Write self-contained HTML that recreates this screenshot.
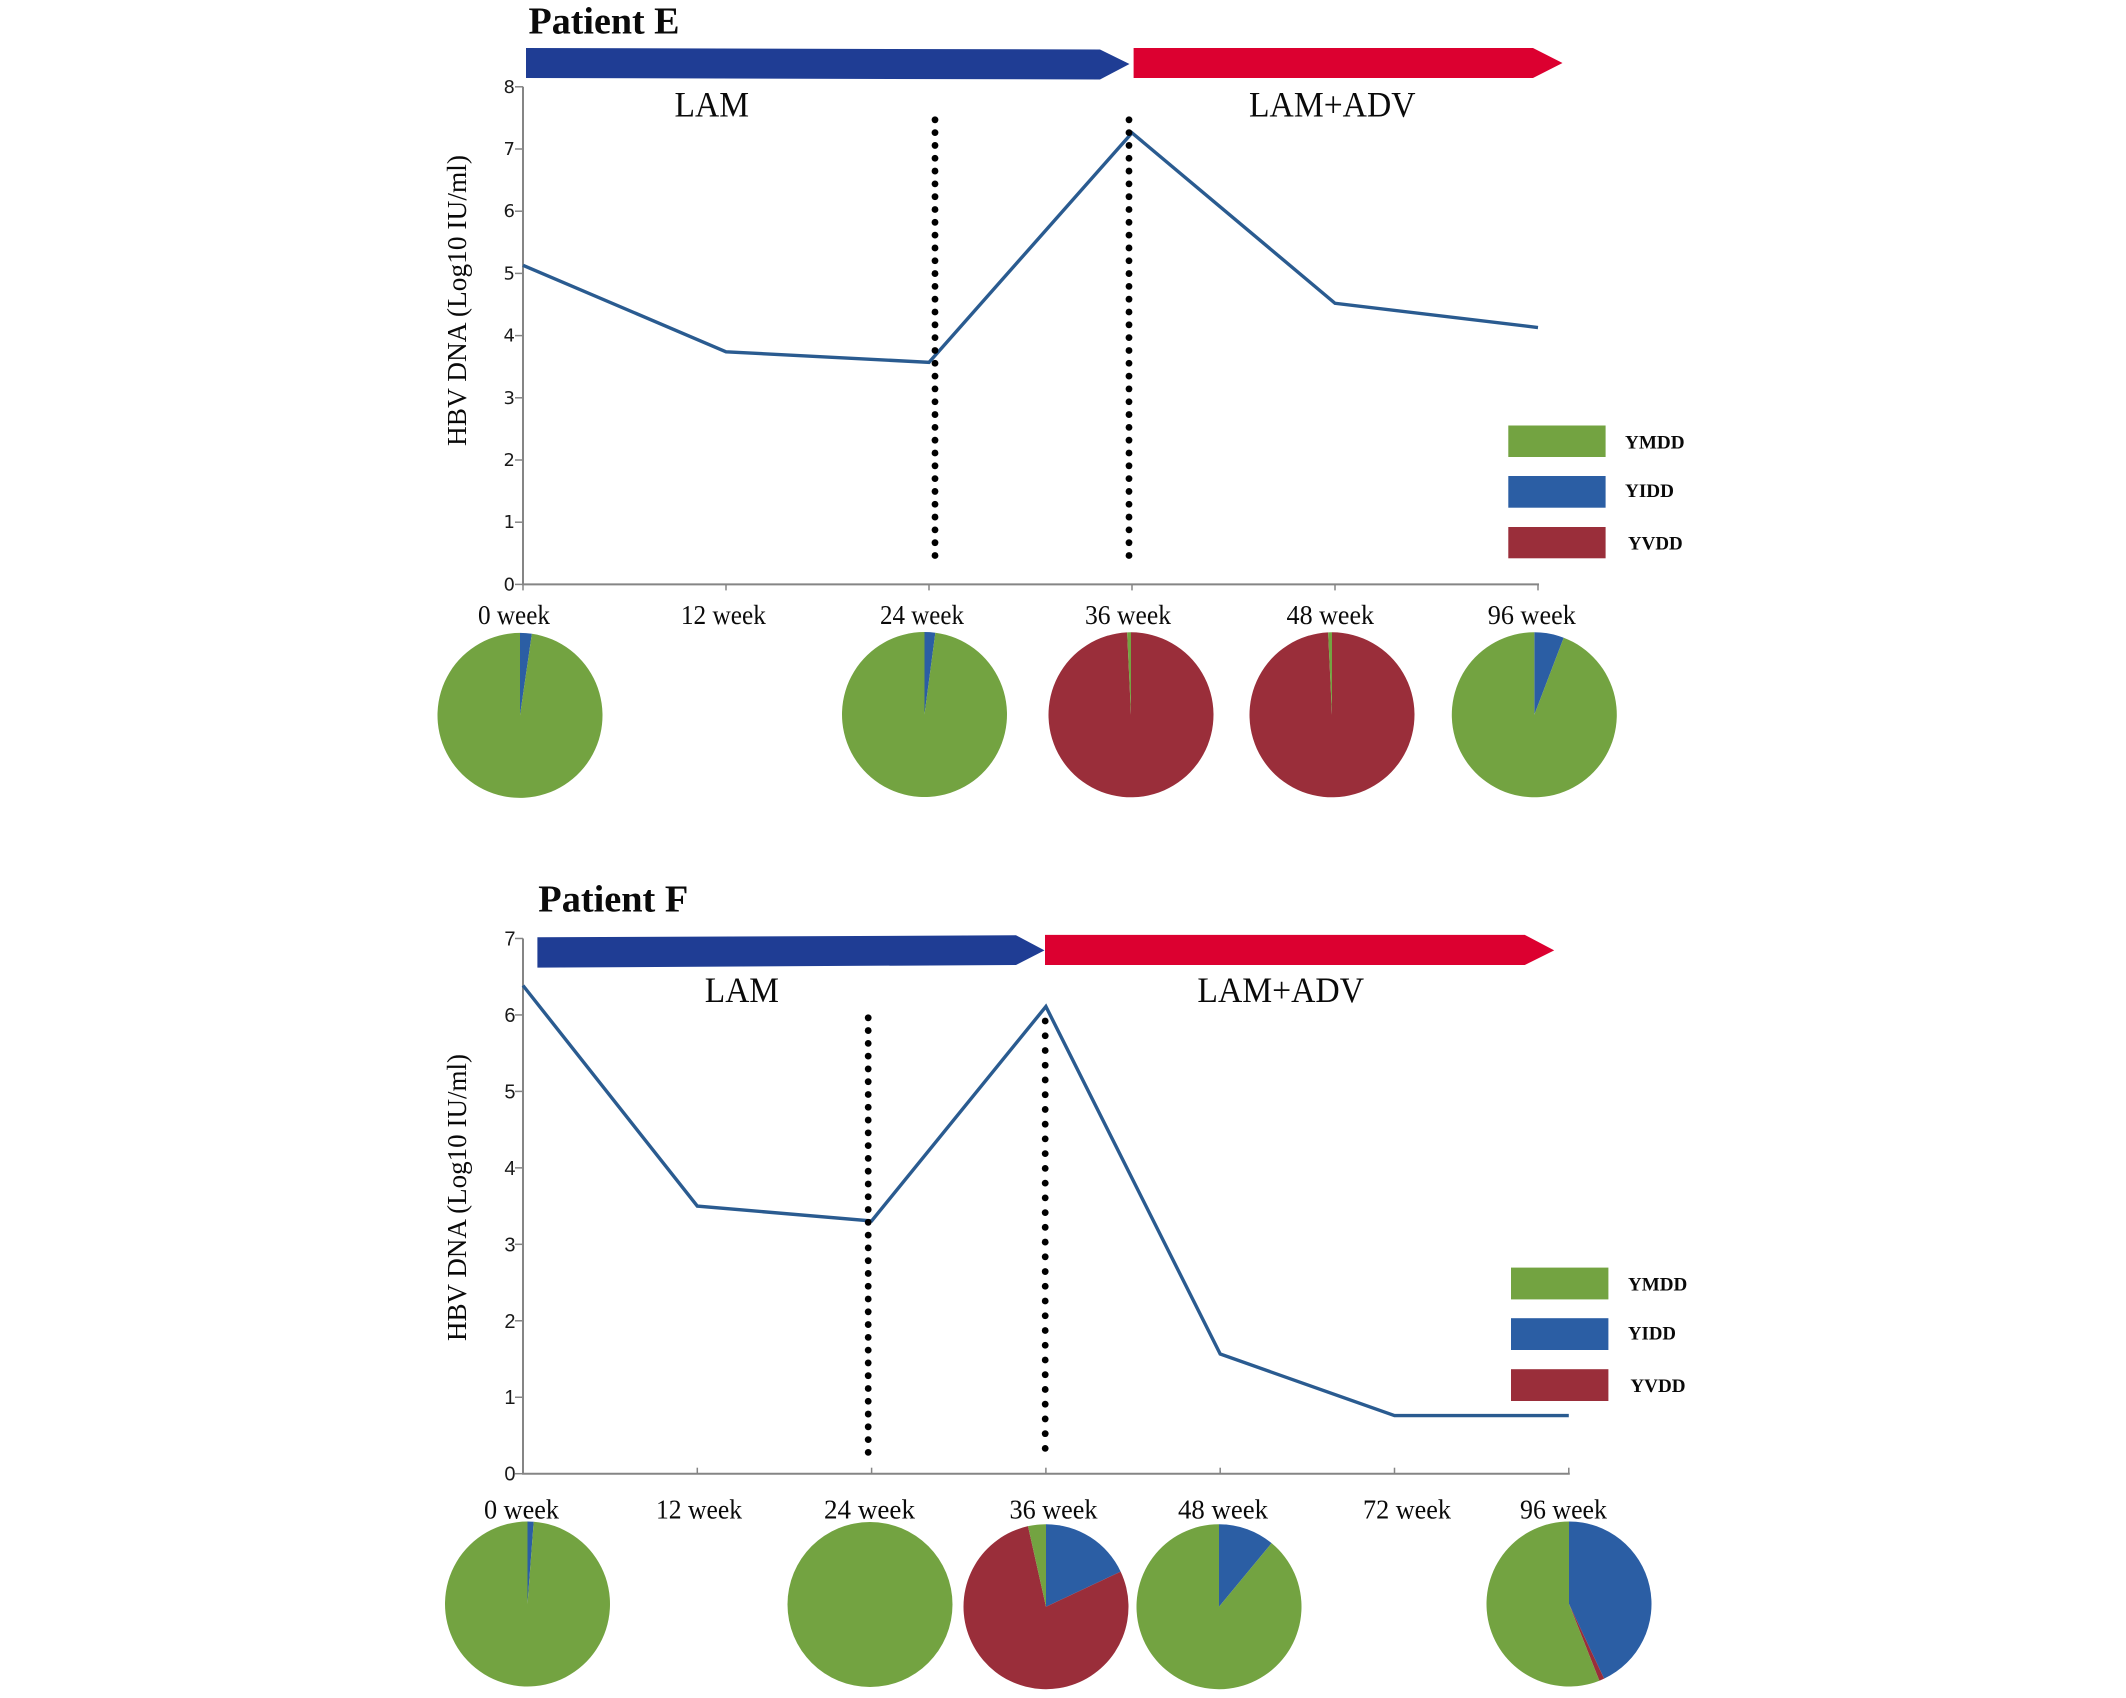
<!DOCTYPE html>
<html lang="en">
<head>
<meta charset="utf-8">
<title>HBV DNA and YMDD variants: Patients E and F</title>
<style>
html,body{margin:0;padding:0;background:#fff;}
svg{display:block;}
.serif{font-family:"Liberation Serif",serif;fill:#0a0a0a;}
</style>
</head>
<body>
<svg id="figure" xmlns="http://www.w3.org/2000/svg" width="2126" height="1698" viewBox="0 0 2126 1698">
  <rect width="2126" height="1698" fill="#ffffff"/>

  <text class="serif" x="528.5" y="33.6" font-size="38" font-weight="700" textLength="151" lengthAdjust="spacingAndGlyphs">Patient E</text>
  <polygon points="526,48 1100,49.5 1129.5,64 1100,79.5 526,78" fill="#1f3d94"/>
  <polygon points="1133.6,48 1533,48 1562.5,63 1533,78 1133.6,78" fill="#dc0030"/>
  <text class="serif" x="674.5" y="116.6" font-size="36" textLength="74.5" lengthAdjust="spacingAndGlyphs">LAM</text>
  <text class="serif" x="1249" y="116.6" font-size="36" textLength="166.5" lengthAdjust="spacingAndGlyphs">LAM+ADV</text>
  <text class="serif" x="466" y="446" font-size="27" textLength="291" lengthAdjust="spacingAndGlyphs" transform="rotate(-90 466 446)">HBV DNA (Log10 IU/ml)</text>

  <rect x="1508.3" y="425.5" width="97.3" height="31.5" fill="#73a341"/>
  <rect x="1508.3" y="476" width="97.3" height="31.7" fill="#2b5ea4"/>
  <rect x="1508.3" y="527" width="97.3" height="31.3" fill="#9a2e3a"/>
  <text class="serif" x="1625" y="448.5" font-size="19" font-weight="700" textLength="59.6" lengthAdjust="spacingAndGlyphs">YMDD</text>
  <text class="serif" x="1625" y="497" font-size="19" font-weight="700" textLength="49" lengthAdjust="spacingAndGlyphs">YIDD</text>
  <text class="serif" x="1628" y="549.6" font-size="19" font-weight="700" textLength="54.7" lengthAdjust="spacingAndGlyphs">YVDD</text>

  <text class="serif" x="538.3" y="911.6" font-size="38" font-weight="700" textLength="150" lengthAdjust="spacingAndGlyphs">Patient F</text>
  <polygon points="537.4,937.3 1016,935.3 1044.5,950.4 1016,965 537.4,967.6" fill="#1f3d94"/>
  <polygon points="1045,934.9 1524.8,934.9 1554.2,950.4 1524.8,965 1045,965" fill="#dc0030"/>
  <text class="serif" x="704.8" y="1001.8" font-size="36" textLength="74.2" lengthAdjust="spacingAndGlyphs">LAM</text>
  <text class="serif" x="1197.4" y="1001.8" font-size="36" textLength="166.6" lengthAdjust="spacingAndGlyphs">LAM+ADV</text>
  <text class="serif" x="466" y="1341" font-size="27" textLength="287" lengthAdjust="spacingAndGlyphs" transform="rotate(-90 466 1341)">HBV DNA (Log10 IU/ml)</text>

  <rect x="1511" y="1267.6" width="97.4" height="31.8" fill="#73a341"/>
  <rect x="1511" y="1318.2" width="97.4" height="31.8" fill="#2b5ea4"/>
  <rect x="1511" y="1369.2" width="97.4" height="31.8" fill="#9a2e3a"/>
  <text class="serif" x="1628" y="1290.5" font-size="19" font-weight="700" textLength="59.3" lengthAdjust="spacingAndGlyphs">YMDD</text>
  <text class="serif" x="1628" y="1339.3" font-size="19" font-weight="700" textLength="48" lengthAdjust="spacingAndGlyphs">YIDD</text>
  <text class="serif" x="1630.4" y="1392" font-size="19" font-weight="700" textLength="55.1" lengthAdjust="spacingAndGlyphs">YVDD</text>
</svg>

<script>
// ---------- Patient E data ----------
const weeksE = ['0 week', '12 week', '24 week', '36 week', '48 week', '96 week'];
const hbvDnaE = [5.13, 3.74, 3.57, 7.26, 4.52, 4.13];
const yTicksE = [0, 1, 2, 3, 4, 5, 6, 7, 8];
const yiddE = [2.3, null, 2.1, 0, 0, 5.8];
const yvddE = [0, null, 0, 99.25, 99.25, 0];
const ymddE = [97.7, null, 97.9, 0.75, 0.75, 94.2];

// ---------- Patient F data ----------
const weeksF = ['0 week', '12 week', '24 week', '36 week', '48 week', '72 week', '96 week'];
const hbvDnaF = [6.385, 3.5, 3.305, 6.11, 1.565, 0.76, 0.76];
const yTicksF = [0, 1, 2, 3, 4, 5, 6, 7];
const yiddF = [1.2, null, 0, 18, 11, null, 43];
const yvddF = [0, null, 0, 78.5, 0, null, 1];
const ymddF = [98.8, null, 100, 3.5, 89, null, 56];

// ---------- Layout (pixels, independent of the data) ----------
const layoutE = {
  id: 'patient-e', x0: 523, step: 203, y0: 584.4, unit: 62.2, yMax: 8,
  tickDir: 1, tickFont: '"DejaVu Sans",sans-serif', tickSize: 18, tickRight: 515, tickDy: 6,
  labelMid: [514, 723.4, 922, 1128, 1330.3, 1531.8], labelW: [72, 85, 84, 86, 87.5, 88], labelY: 624,
  pieDx: [-3, 0, -4.5, -1, -3, -3.7], pieCy: [715.4, 0, 714.5, 714.8, 714.8, 714.8], pieR: 82.5,
  dotCols: [{x: 935, top: 119.8, bottom: 555.5, n: 35}, {x: 1129, top: 119.8, bottom: 555.5, n: 35}]
};
const layoutF = {
  id: 'patient-f', x0: 523, step: 174.3, y0: 1473.7, unit: 76.46, yMax: 7,
  tickDir: -1, tickFont: '"Liberation Sans",sans-serif', tickSize: 20, tickRight: 515.5, tickDy: 7,
  labelMid: [521.5, 699, 869.5, 1053.5, 1223, 1407, 1563.5], labelW: [75, 86, 91, 88, 90, 88, 87], labelY: 1518.3,
  pieDx: [4.5, 0, -1.6, 0.1, -1.2, 0, 0.2], pieCy: [1604, 0, 1604.5, 1606.7, 1606.7, 0, 1604], pieR: 82.5,
  dotCols: [{x: 868.2, top: 1017.8, bottom: 1452.4, n: 35}, {x: 1045.2, top: 1021, bottom: 1448.4, n: 30}]
};

const SVG_NS = 'http://www.w3.org/2000/svg';
const figure = document.getElementById('figure');

function make(tag, attrs) {
  const node = document.createElementNS(SVG_NS, tag);
  Object.keys(attrs).forEach(function (k) { node.setAttribute(k, attrs[k]); });
  figure.appendChild(node);
  return node;
}

function slicePath(cx, cy, r, fromPct, toPct) {
  const a0 = fromPct / 100 * 2 * Math.PI;
  const a1 = toPct / 100 * 2 * Math.PI;
  const large = (toPct - fromPct) > 50 ? 1 : 0;
  return 'M' + cx + ' ' + cy +
    'L' + (cx + r * Math.sin(a0)) + ' ' + (cy - r * Math.cos(a0)) +
    'A' + r + ' ' + r + ' 0 ' + large + ' 1 ' +
    (cx + r * Math.sin(a1)) + ' ' + (cy - r * Math.cos(a1)) + 'Z';
}

function drawChart(L, weeks, values, yTicks, yidd, yvdd, ymdd) {
  const xScale = function (i) { return L.x0 + i * L.step; };
  const yScale = function (v) { return L.y0 - v * L.unit; };
  const axisColor = '#858585';
  const xEnd = xScale(weeks.length - 1);

  const yAxis = make('line', {x1: L.x0, x2: L.x0, y1: yScale(L.yMax), y2: L.y0, stroke: axisColor, 'stroke-width': 2});
  
  

  const xAxis = make('line', {x1: L.x0 - 1, x2: xEnd + 1, y1: L.y0, y2: L.y0, stroke: axisColor, 'stroke-width': 2});
  
  

  yTicks.forEach(function (t) {
    const tick = make('line', {x1: L.x0 - 8, x2: L.x0, y1: yScale(t), y2: yScale(t), stroke: axisColor, 'stroke-width': 1.5});
    
    
    const label = make('text', {x: L.tickRight, y: yScale(t) + L.tickDy, 'text-anchor': 'end', 'font-size': L.tickSize, 'font-family': L.tickFont, fill: '#1a1a1a'});
    label.textContent = String(t);
    
    
  });

  weeks.forEach(function (w, i) {
    const tick = make('line', {x1: xScale(i), x2: xScale(i), y1: L.y0, y2: L.y0 + L.tickDir * 6, stroke: axisColor, 'stroke-width': 1.5});
    
    
    const label = make('text', {x: L.labelMid[i] - L.labelW[i] / 2, y: L.labelY, 'font-size': 27, textLength: L.labelW[i], lengthAdjust: 'spacingAndGlyphs', 'class': 'serif'});
    label.textContent = w;
    
    
  });

  const line = make('polyline', {
    points: values.map(function (v, i) { return xScale(i) + ',' + yScale(v); }).join(' '),
    fill: 'none', stroke: '#2a5b90', 'stroke-width': 3.4, 'stroke-linejoin': 'miter'
  });
  
  

  L.dotCols.forEach(function (col, c) {
    const gap = (col.bottom - col.top) / (col.n - 1);
    for (let k = 0; k < col.n; k++) {
      const dot = make('circle', {cx: col.x, cy: col.top + k * gap, r: 3.4, fill: '#000000'});
      
      
    }
  });

  const colors = {yidd: '#2b5ea4', yvdd: '#9a2e3a', ymdd: '#73a341'};
  weeks.forEach(function (w, i) {
    if (yidd[i] === null) { return; }
    const cx = xScale(i) + L.pieDx[i];
    const cy = L.pieCy[i];
    const parts = [['yidd', yidd[i]], ['yvdd', yvdd[i]], ['ymdd', ymdd[i]]];
    const total = yidd[i] + yvdd[i] + ymdd[i];
    let acc = 0;
    parts.forEach(function (p) {
      const pct = p[1] / total * 100;
      if (pct <= 0) { return; }
      let slice;
      if (pct >= 99.999) {
        slice = make('circle', {cx: cx, cy: cy, r: L.pieR, fill: colors[p[0]]});
      } else {
        slice = make('path', {d: slicePath(cx, cy, L.pieR, acc, acc + pct), fill: colors[p[0]]});
      }
      
      
      acc += pct;
    });
  });
}

drawChart(layoutE, weeksE, hbvDnaE, yTicksE, yiddE, yvddE, ymddE);
drawChart(layoutF, weeksF, hbvDnaF, yTicksF, yiddF, yvddF, ymddF);
</script>
</body>
</html>
